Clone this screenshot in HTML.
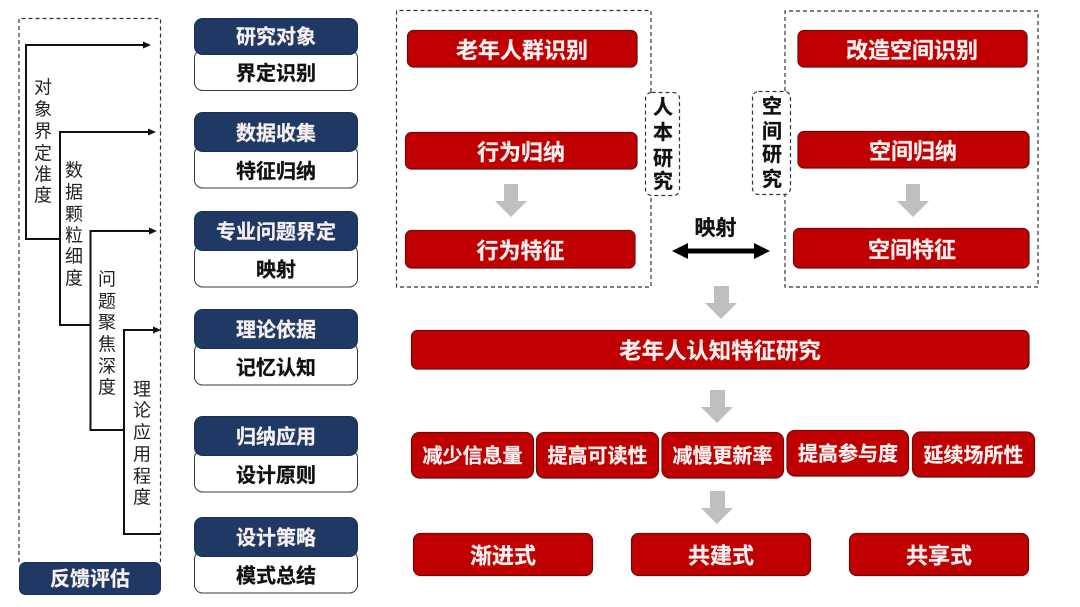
<!DOCTYPE html>
<html><head><meta charset="utf-8">
<style>
html,body{margin:0;padding:0;background:#fff}
svg{display:block}
text{font-family:"Liberation Sans","Noto Sans CJK SC",sans-serif;text-anchor:middle;dominant-baseline:central;transform:translateY(1px)}
.w2{fill:#f6f0f0;font-weight:700;stroke:#f6f0f0;stroke-width:.25}
.k{fill:#111;font-weight:700;stroke:#111;stroke-width:.3}
text.v{fill:#222;font-size:18px;font-weight:400;transform:translateY(.5px)}
.red{fill:#c00000;stroke:#6e0a0a;stroke-width:1.2}
.navy{fill:#1f3864;stroke:#1a2f55;stroke-width:1}
.wh{fill:#fff;stroke:#3a3a3a;stroke-width:1}
.dash{fill:none;stroke:#333;stroke-width:1.2;stroke-dasharray:4 3}
.ln{fill:none;stroke:#111;stroke-width:2}
.ar{fill:#111}
.gr{fill:#bfbfbf}
</style></head>
<body>
<svg xmlns="http://www.w3.org/2000/svg" width="1080" height="607" viewBox="0 0 1080 607">
<rect width="1080" height="607" fill="#fff"/>

<!-- left dashed frame -->
<path class="dash" d="M19 562V18.5H160.5V562"/>
<rect class="navy" x="19.5" y="562.5" width="141" height="32" rx="6"/>
<text class="w2" x="90" y="578.5" font-size="20">反馈评估</text>

<!-- stepped lines -->
<path class="ln" d="M60 239H26V45H146"/><path class="ar" d="M143 41.500L151 45L143 48.500Z"/>
<path class="ln" d="M90 325H60V132H150"/><path class="ar" d="M148 128.500L156 132L148 135.500Z"/>
<path class="ln" d="M124 430H90.500V231H151"/><path class="ar" d="M149 227.500L157 231L149 234.500Z"/>
<path class="ln" d="M160 534H124V330H155"/><path class="ar" d="M153 326.500L161 330L153 333.500Z"/>

<text class="v" x="43" y="87">对</text><text class="v" x="43" y="109">象</text><text class="v" x="43" y="131">界</text><text class="v" x="43" y="153">定</text><text class="v" x="43" y="174">准</text><text class="v" x="43" y="195">度</text>
<text class="v" x="74" y="170">数</text><text class="v" x="74" y="192">据</text><text class="v" x="74" y="214">颗</text><text class="v" x="74" y="235">粒</text><text class="v" x="74" y="256">细</text><text class="v" x="74" y="278">度</text>
<text class="v" x="107" y="279">问</text><text class="v" x="107" y="301">题</text><text class="v" x="107" y="322">聚</text><text class="v" x="107" y="344">焦</text><text class="v" x="107" y="366">深</text><text class="v" x="107" y="387">度</text>
<text class="v" x="142" y="389">理</text><text class="v" x="142" y="410">论</text><text class="v" x="142" y="432">应</text><text class="v" x="142" y="454">用</text><text class="v" x="142" y="476">程</text><text class="v" x="142" y="497">度</text>

<!-- column of paired boxes -->
<rect class="wh" x="194.500" y="50" width="163" height="40.500" rx="8"/>
<rect class="navy" x="194.500" y="18.500" width="163" height="36" rx="8"/>
<text class="w2" x="276" y="36.500" font-size="20">研究对象</text>
<text class="k" x="276" y="73" font-size="20">界定识别</text>

<rect class="wh" x="194.500" y="146" width="163" height="42" rx="8"/>
<rect class="navy" x="194.500" y="112.500" width="163" height="39" rx="8"/>
<text class="w2" x="276" y="133" font-size="20">数据收集</text>
<text class="k" x="276" y="171" font-size="20">特征归纳</text>

<rect class="wh" x="194.500" y="245" width="163" height="42" rx="8"/>
<rect class="navy" x="194.500" y="211.500" width="163" height="39" rx="8"/>
<text class="w2" x="276" y="231.500" font-size="20">专业问题界定</text>
<text class="k" x="276" y="269.500" font-size="20">映射</text>

<rect class="wh" x="194.500" y="343" width="163" height="42" rx="8"/>
<rect class="navy" x="194.500" y="309.500" width="163" height="39" rx="8"/>
<text class="w2" x="276" y="329.500" font-size="20">理论依据</text>
<text class="k" x="276" y="367.500" font-size="20">记忆认知</text>

<rect class="wh" x="194.500" y="450" width="163" height="42" rx="8"/>
<rect class="navy" x="194.500" y="416.500" width="163" height="39" rx="8"/>
<text class="w2" x="276" y="436.500" font-size="20">归纳应用</text>
<text class="k" x="276" y="475" font-size="20">设计原则</text>

<rect class="wh" x="194.500" y="551" width="163" height="42" rx="8"/>
<rect class="navy" x="194.500" y="517.500" width="163" height="39" rx="8"/>
<text class="w2" x="276" y="537.500" font-size="20">设计策略</text>
<text class="k" x="276" y="575.500" font-size="20">模式总结</text>

<!-- top left group -->
<path class="dash" d="M651 92V10.500H396.500V287H651V196"/>
<rect x="645.500" y="92.500" width="34" height="103" rx="6" fill="#fff" stroke="#333" stroke-width="1.200" stroke-dasharray="4 3"/>
<text class="k" x="663" y="107" font-size="20">人</text><text class="k" x="663" y="132" font-size="20">本</text><text class="k" x="663" y="158" font-size="20">研</text><text class="k" x="663" y="181" font-size="20">究</text>

<rect class="red" x="407.500" y="30.500" width="229.500" height="36.500" rx="6"/>
<text class="w2" x="522" y="49.500" font-size="22">老年人群识别</text>
<rect class="red" x="405.500" y="132.500" width="231.500" height="36.500" rx="6"/>
<text class="w2" x="521" y="151.500" font-size="22">行为归纳</text>
<rect class="red" x="405.500" y="230.500" width="229.500" height="37.500" rx="6"/>
<text class="w2" x="520.500" y="250" font-size="22">行为特征</text>

<path class="gr" d="M504 184H518V201H527L511 217L495 201H504Z"/>

<!-- top right group -->
<path class="dash" d="M785 91V11H1038V287H785V195"/>
<rect x="752.500" y="91.500" width="38" height="103" rx="6" fill="#fff" stroke="#333" stroke-width="1.200" stroke-dasharray="4 3"/>
<text class="k" x="772" y="106" font-size="20">空</text><text class="k" x="772" y="131" font-size="20">间</text><text class="k" x="772" y="154" font-size="20">研</text><text class="k" x="772" y="179" font-size="20">究</text>

<rect class="red" x="798" y="30.500" width="229" height="36.500" rx="6"/>
<text class="w2" x="912" y="49.500" font-size="22">改造空间识别</text>
<rect class="red" x="798" y="131.500" width="231" height="36.500" rx="6"/>
<text class="w2" x="913" y="150.500" font-size="22">空间归纳</text>
<rect class="red" x="793.500" y="228.500" width="235.500" height="39.500" rx="6"/>
<text class="w2" x="912" y="249" font-size="22">空间特征</text>

<path class="gr" d="M906 184H920V201H929L913 217L897 201H906Z"/>

<!-- mapping -->
<text class="k" x="715.500" y="227.500" font-size="21">映射</text>
<path fill="#000" d="M672 251L688 243V248.500H754V243L770 251L754 259V253.500H688V259Z"/>

<!-- down arrows -->
<path class="gr" d="M714 286H729V303H737L721 319L705 303H714Z"/>
<path class="gr" d="M710 390H725V407H733L717 423L701 407H710Z"/>
<path class="gr" d="M710 491H725V508H733L717 524L701 508H710Z"/>

<!-- main bar -->
<rect class="red" x="411.500" y="330.500" width="617.500" height="38.500" rx="6"/>
<text class="w2" x="720" y="350" font-size="22.400">老年人认知特征研究</text>

<!-- principles -->
<rect class="red" x="411.500" y="432.500" width="122" height="45.500" rx="8"/>
<text class="w2" x="472.500" y="455.500" font-size="20">减少信息量</text>
<rect class="red" x="536.500" y="432.500" width="122" height="45.500" rx="8"/>
<text class="w2" x="597.500" y="455.500" font-size="20">提高可读性</text>
<rect class="red" x="662" y="432.500" width="121.500" height="45.500" rx="8"/>
<text class="w2" x="722.500" y="455.500" font-size="20">减慢更新率</text>
<rect class="red" x="787" y="430.500" width="121.500" height="45.500" rx="8"/>
<text class="w2" x="848" y="453.500" font-size="20">提高参与度</text>
<rect class="red" x="912.500" y="432" width="122" height="45" rx="8"/>
<text class="w2" x="973.500" y="455" font-size="20">延续场所性</text>

<!-- modes -->
<rect class="red" x="413.500" y="533.500" width="179" height="42" rx="7"/>
<text class="w2" x="503" y="555" font-size="22">渐进式</text>
<rect class="red" x="631.500" y="533.500" width="179" height="42" rx="7"/>
<text class="w2" x="721" y="555" font-size="22">共建式</text>
<rect class="red" x="849.500" y="533.500" width="179" height="42" rx="7"/>
<text class="w2" x="939" y="555" font-size="22">共享式</text>
</svg>
</body></html>
